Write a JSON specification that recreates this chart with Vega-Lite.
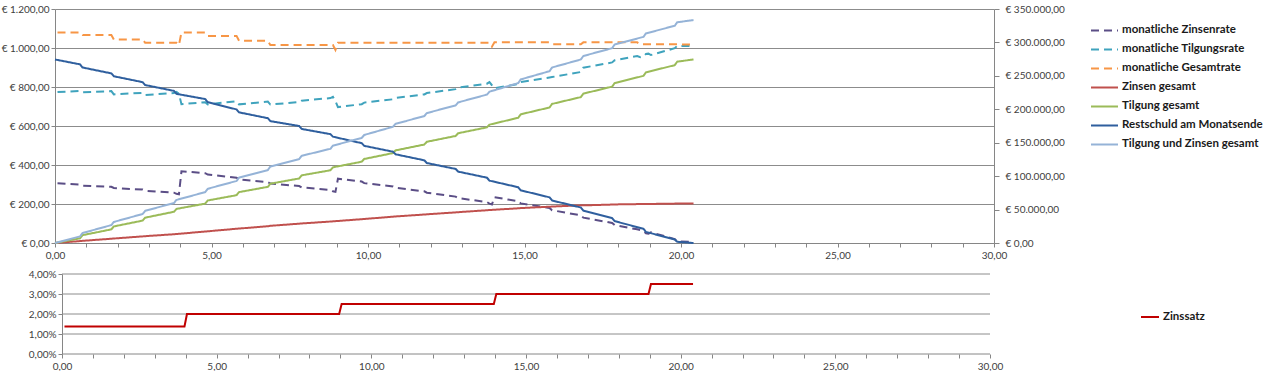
{
  "$schema": "https://vega.github.io/schema/vega-lite/v6.json",
  "background": "white",
  "padding": {"left": 0, "right": 0, "top": 4, "bottom": 0},
  "config": {
    "locale": {"number": {"decimal": ",", "thousands": ".", "grouping": [3], "currency": ["€ ", ""]}},
    "font": "Lato",
    "view": {"stroke": null},
    "axis": {"labelFont": "Lato", "labelFontSize": 10, "labelColor": "#404040", "domainColor": "#868686", "tickColor": "#868686", "gridColor": "#8c8c8c", "gridWidth": 1, "title": null, "labelOverlap": false, "labelFlush": false, "tickSize": 4},
    "legend": {"labelFont": "Lato", "labelFontSize": 11.5, "labelFontWeight": "bold", "labelColor": "#1a1a1a", "title": null}
  },
  "datasets": {
    "monthly": [
      {"x": 0.08, "monatliche Zinsenrate": 306, "monatliche Tilgungsrate": 774, "monatliche Gesamtrate": 1080},
      {"x": 0.8, "monatliche Zinsenrate": 300, "monatliche Tilgungsrate": 780, "monatliche Gesamtrate": 1080},
      {"x": 0.88, "monatliche Zinsenrate": 294, "monatliche Tilgungsrate": 773, "monatliche Gesamtrate": 1067},
      {"x": 1.8, "monatliche Zinsenrate": 288, "monatliche Tilgungsrate": 779, "monatliche Gesamtrate": 1067},
      {"x": 1.88, "monatliche Zinsenrate": 282, "monatliche Tilgungsrate": 762, "monatliche Gesamtrate": 1044},
      {"x": 2.8, "monatliche Zinsenrate": 274, "monatliche Tilgungsrate": 770, "monatliche Gesamtrate": 1044},
      {"x": 2.88, "monatliche Zinsenrate": 268, "monatliche Tilgungsrate": 759, "monatliche Gesamtrate": 1027},
      {"x": 3.8, "monatliche Zinsenrate": 258, "monatliche Tilgungsrate": 769, "monatliche Gesamtrate": 1027},
      {"x": 3.88, "monatliche Zinsenrate": 252, "monatliche Tilgungsrate": 775, "monatliche Gesamtrate": 1027},
      {"x": 3.96, "monatliche Zinsenrate": 250, "monatliche Tilgungsrate": 765, "monatliche Gesamtrate": 1015},
      {"x": 4.04, "monatliche Zinsenrate": 368, "monatliche Tilgungsrate": 712, "monatliche Gesamtrate": 1080},
      {"x": 4.8, "monatliche Zinsenrate": 358, "monatliche Tilgungsrate": 722, "monatliche Gesamtrate": 1080},
      {"x": 4.88, "monatliche Zinsenrate": 351, "monatliche Tilgungsrate": 711, "monatliche Gesamtrate": 1062},
      {"x": 5.8, "monatliche Zinsenrate": 335, "monatliche Tilgungsrate": 727, "monatliche Gesamtrate": 1062},
      {"x": 5.88, "monatliche Zinsenrate": 326, "monatliche Tilgungsrate": 711, "monatliche Gesamtrate": 1037},
      {"x": 6.8, "monatliche Zinsenrate": 312, "monatliche Tilgungsrate": 725, "monatliche Gesamtrate": 1037},
      {"x": 6.88, "monatliche Zinsenrate": 305, "monatliche Tilgungsrate": 710, "monatliche Gesamtrate": 1015},
      {"x": 7.8, "monatliche Zinsenrate": 292, "monatliche Tilgungsrate": 723, "monatliche Gesamtrate": 1015},
      {"x": 7.88, "monatliche Zinsenrate": 285, "monatliche Tilgungsrate": 730, "monatliche Gesamtrate": 1015},
      {"x": 8.8, "monatliche Zinsenrate": 272, "monatliche Tilgungsrate": 743, "monatliche Gesamtrate": 1015},
      {"x": 8.88, "monatliche Zinsenrate": 265, "monatliche Tilgungsrate": 750, "monatliche Gesamtrate": 1015},
      {"x": 8.96, "monatliche Zinsenrate": 262, "monatliche Tilgungsrate": 728, "monatliche Gesamtrate": 990},
      {"x": 9.04, "monatliche Zinsenrate": 330, "monatliche Tilgungsrate": 697, "monatliche Gesamtrate": 1027},
      {"x": 9.8, "monatliche Zinsenrate": 315, "monatliche Tilgungsrate": 712, "monatliche Gesamtrate": 1027},
      {"x": 9.88, "monatliche Zinsenrate": 307, "monatliche Tilgungsrate": 720, "monatliche Gesamtrate": 1027},
      {"x": 10.8, "monatliche Zinsenrate": 290, "monatliche Tilgungsrate": 737, "monatliche Gesamtrate": 1027},
      {"x": 10.88, "monatliche Zinsenrate": 283, "monatliche Tilgungsrate": 744, "monatliche Gesamtrate": 1027},
      {"x": 11.8, "monatliche Zinsenrate": 265, "monatliche Tilgungsrate": 762, "monatliche Gesamtrate": 1027},
      {"x": 11.88, "monatliche Zinsenrate": 258, "monatliche Tilgungsrate": 769, "monatliche Gesamtrate": 1027},
      {"x": 12.8, "monatliche Zinsenrate": 238, "monatliche Tilgungsrate": 789, "monatliche Gesamtrate": 1027},
      {"x": 12.88, "monatliche Zinsenrate": 230, "monatliche Tilgungsrate": 797, "monatliche Gesamtrate": 1027},
      {"x": 13.8, "monatliche Zinsenrate": 210, "monatliche Tilgungsrate": 817, "monatliche Gesamtrate": 1027},
      {"x": 13.88, "monatliche Zinsenrate": 202, "monatliche Tilgungsrate": 825, "monatliche Gesamtrate": 1027},
      {"x": 13.96, "monatliche Zinsenrate": 198, "monatliche Tilgungsrate": 809, "monatliche Gesamtrate": 1007},
      {"x": 14.04, "monatliche Zinsenrate": 235, "monatliche Tilgungsrate": 794, "monatliche Gesamtrate": 1029},
      {"x": 14.8, "monatliche Zinsenrate": 214, "monatliche Tilgungsrate": 815, "monatliche Gesamtrate": 1029},
      {"x": 14.88, "monatliche Zinsenrate": 203, "monatliche Tilgungsrate": 826, "monatliche Gesamtrate": 1029},
      {"x": 15.8, "monatliche Zinsenrate": 180, "monatliche Tilgungsrate": 849, "monatliche Gesamtrate": 1029},
      {"x": 15.88, "monatliche Zinsenrate": 168, "monatliche Tilgungsrate": 851, "monatliche Gesamtrate": 1019},
      {"x": 16.8, "monatliche Zinsenrate": 142, "monatliche Tilgungsrate": 877, "monatliche Gesamtrate": 1019},
      {"x": 16.88, "monatliche Zinsenrate": 130, "monatliche Tilgungsrate": 899, "monatliche Gesamtrate": 1029},
      {"x": 17.8, "monatliche Zinsenrate": 103, "monatliche Tilgungsrate": 926, "monatliche Gesamtrate": 1029},
      {"x": 17.88, "monatliche Zinsenrate": 92, "monatliche Tilgungsrate": 937, "monatliche Gesamtrate": 1029},
      {"x": 18.6, "monatliche Zinsenrate": 70, "monatliche Tilgungsrate": 959, "monatliche Gesamtrate": 1029},
      {"x": 18.7, "monatliche Zinsenrate": 66, "monatliche Tilgungsrate": 953, "monatliche Gesamtrate": 1019},
      {"x": 18.8, "monatliche Zinsenrate": 62, "monatliche Tilgungsrate": 957, "monatliche Gesamtrate": 1019},
      {"x": 18.88, "monatliche Zinsenrate": 50, "monatliche Tilgungsrate": 969, "monatliche Gesamtrate": 1019},
      {"x": 18.96, "monatliche Zinsenrate": 48, "monatliche Tilgungsrate": 971, "monatliche Gesamtrate": 1019},
      {"x": 19.04, "monatliche Zinsenrate": 55, "monatliche Tilgungsrate": 964, "monatliche Gesamtrate": 1019},
      {"x": 19.8, "monatliche Zinsenrate": 20, "monatliche Tilgungsrate": 999, "monatliche Gesamtrate": 1019},
      {"x": 19.88, "monatliche Zinsenrate": 8, "monatliche Tilgungsrate": 1011, "monatliche Gesamtrate": 1019},
      {"x": 20.4, "monatliche Zinsenrate": 5, "monatliche Tilgungsrate": 1010, "monatliche Gesamtrate": 1017}
    ],
    "cum": [
      {"x": 0, "Zinsen gesamt": 0, "Tilgung gesamt": 0, "Restschuld am Monatsende": 274500, "Tilgung und Zinsen gesamt": 0},
      {"x": 0.8, "Zinsen gesamt": 2900, "Tilgung gesamt": 7000, "Restschuld am Monatsende": 267200, "Tilgung und Zinsen gesamt": 9900},
      {"x": 0.88, "Zinsen gesamt": 3200, "Tilgung gesamt": 11700, "Restschuld am Monatsende": 262500, "Tilgung und Zinsen gesamt": 14900},
      {"x": 1.8, "Zinsen gesamt": 6400, "Tilgung gesamt": 20400, "Restschuld am Monatsende": 253700, "Tilgung und Zinsen gesamt": 26800},
      {"x": 1.88, "Zinsen gesamt": 6700, "Tilgung gesamt": 24800, "Restschuld am Monatsende": 249400, "Tilgung und Zinsen gesamt": 31500},
      {"x": 2.8, "Zinsen gesamt": 9900, "Tilgung gesamt": 33500, "Restschuld am Monatsende": 240600, "Tilgung und Zinsen gesamt": 43400},
      {"x": 2.88, "Zinsen gesamt": 10200, "Tilgung gesamt": 37900, "Restschuld am Monatsende": 236300, "Tilgung und Zinsen gesamt": 48100},
      {"x": 3.8, "Zinsen gesamt": 13100, "Tilgung gesamt": 46700, "Restschuld am Monatsende": 227500, "Tilgung und Zinsen gesamt": 59800},
      {"x": 3.88, "Zinsen gesamt": 13400, "Tilgung gesamt": 51000, "Restschuld am Monatsende": 223100, "Tilgung und Zinsen gesamt": 64400},
      {"x": 4.8, "Zinsen gesamt": 17200, "Tilgung gesamt": 58900, "Restschuld am Monatsende": 215300, "Tilgung und Zinsen gesamt": 76100},
      {"x": 4.88, "Zinsen gesamt": 17500, "Tilgung gesamt": 63600, "Restschuld am Monatsende": 210600, "Tilgung und Zinsen gesamt": 81100},
      {"x": 5.8, "Zinsen gesamt": 21300, "Tilgung gesamt": 71500, "Restschuld am Monatsende": 199800, "Tilgung und Zinsen gesamt": 92800},
      {"x": 5.88, "Zinsen gesamt": 21600, "Tilgung gesamt": 76100, "Restschuld am Monatsende": 195400, "Tilgung und Zinsen gesamt": 97700},
      {"x": 6.8, "Zinsen gesamt": 25100, "Tilgung gesamt": 84000, "Restschuld am Monatsende": 186700, "Tilgung und Zinsen gesamt": 109100},
      {"x": 6.88, "Zinsen gesamt": 25700, "Tilgung gesamt": 88700, "Restschuld am Monatsende": 182300, "Tilgung und Zinsen gesamt": 114400},
      {"x": 7.8, "Zinsen gesamt": 28900, "Tilgung gesamt": 96500, "Restschuld am Monatsende": 175000, "Tilgung und Zinsen gesamt": 125400},
      {"x": 7.88, "Zinsen gesamt": 29200, "Tilgung gesamt": 101200, "Restschuld am Monatsende": 170600, "Tilgung und Zinsen gesamt": 130400},
      {"x": 8.8, "Zinsen gesamt": 32100, "Tilgung gesamt": 108800, "Restschuld am Monatsende": 162800, "Tilgung und Zinsen gesamt": 140900},
      {"x": 8.88, "Zinsen gesamt": 32400, "Tilgung gesamt": 113200, "Restschuld am Monatsende": 159000, "Tilgung und Zinsen gesamt": 145600},
      {"x": 9.8, "Zinsen gesamt": 35600, "Tilgung gesamt": 121600, "Restschuld am Monatsende": 149300, "Tilgung und Zinsen gesamt": 157200},
      {"x": 9.88, "Zinsen gesamt": 35900, "Tilgung gesamt": 125700, "Restschuld am Monatsende": 145300, "Tilgung und Zinsen gesamt": 161600},
      {"x": 10.8, "Zinsen gesamt": 39400, "Tilgung gesamt": 134500, "Restschuld am Monatsende": 136500, "Tilgung und Zinsen gesamt": 173900},
      {"x": 10.88, "Zinsen gesamt": 39700, "Tilgung gesamt": 138500, "Restschuld am Monatsende": 132700, "Tilgung und Zinsen gesamt": 178200},
      {"x": 11.8, "Zinsen gesamt": 42600, "Tilgung gesamt": 147300, "Restschuld am Monatsende": 123700, "Tilgung und Zinsen gesamt": 189900},
      {"x": 11.88, "Zinsen gesamt": 42900, "Tilgung gesamt": 151400, "Restschuld am Monatsende": 119600, "Tilgung und Zinsen gesamt": 194300},
      {"x": 12.8, "Zinsen gesamt": 45800, "Tilgung gesamt": 160100, "Restschuld am Monatsende": 110800, "Tilgung und Zinsen gesamt": 205900},
      {"x": 12.88, "Zinsen gesamt": 46100, "Tilgung gesamt": 164200, "Restschuld am Monatsende": 106800, "Tilgung und Zinsen gesamt": 210300},
      {"x": 13.8, "Zinsen gesamt": 49000, "Tilgung gesamt": 173000, "Restschuld am Monatsende": 97700, "Tilgung und Zinsen gesamt": 222000},
      {"x": 13.88, "Zinsen gesamt": 49300, "Tilgung gesamt": 177000, "Restschuld am Monatsende": 93300, "Tilgung und Zinsen gesamt": 226300},
      {"x": 14.8, "Zinsen gesamt": 51900, "Tilgung gesamt": 187300, "Restschuld am Monatsende": 83400, "Tilgung und Zinsen gesamt": 239200},
      {"x": 14.88, "Zinsen gesamt": 52200, "Tilgung gesamt": 192500, "Restschuld am Monatsende": 78800, "Tilgung und Zinsen gesamt": 244700},
      {"x": 15.8, "Zinsen gesamt": 54300, "Tilgung gesamt": 202700, "Restschuld am Monatsende": 68300, "Tilgung und Zinsen gesamt": 257000},
      {"x": 15.88, "Zinsen gesamt": 54500, "Tilgung gesamt": 208000, "Restschuld am Monatsende": 63600, "Tilgung und Zinsen gesamt": 262500},
      {"x": 16.8, "Zinsen gesamt": 56300, "Tilgung gesamt": 218200, "Restschuld am Monatsende": 53100, "Tilgung und Zinsen gesamt": 274500},
      {"x": 16.88, "Zinsen gesamt": 56300, "Tilgung gesamt": 223400, "Restschuld am Monatsende": 48400, "Tilgung und Zinsen gesamt": 279700},
      {"x": 17.8, "Zinsen gesamt": 57500, "Tilgung gesamt": 233900, "Restschuld am Monatsende": 37300, "Tilgung und Zinsen gesamt": 291400},
      {"x": 17.88, "Zinsen gesamt": 57700, "Tilgung gesamt": 239200, "Restschuld am Monatsende": 32700, "Tilgung und Zinsen gesamt": 296900},
      {"x": 18.8, "Zinsen gesamt": 58300, "Tilgung gesamt": 250000, "Restschuld am Monatsende": 21300, "Tilgung und Zinsen gesamt": 308300},
      {"x": 18.88, "Zinsen gesamt": 58300, "Tilgung gesamt": 255200, "Restschuld am Monatsende": 16600, "Tilgung und Zinsen gesamt": 313500},
      {"x": 19.8, "Zinsen gesamt": 58900, "Tilgung gesamt": 266000, "Restschuld am Monatsende": 5300, "Tilgung und Zinsen gesamt": 324900},
      {"x": 19.88, "Zinsen gesamt": 58900, "Tilgung gesamt": 271300, "Restschuld am Monatsende": 1800, "Tilgung und Zinsen gesamt": 330200},
      {"x": 20.4, "Zinsen gesamt": 58900, "Tilgung gesamt": 274500, "Restschuld am Monatsende": 0, "Tilgung und Zinsen gesamt": 333400}
    ],
    "rate": [
      {"x": 0.08, "r": 0.0138},
      {"x": 3.96, "r": 0.0138},
      {"x": 4.04, "r": 0.02},
      {"x": 8.96, "r": 0.02},
      {"x": 9.04, "r": 0.025},
      {"x": 13.96, "r": 0.025},
      {"x": 14.04, "r": 0.03},
      {"x": 18.96, "r": 0.03},
      {"x": 19.04, "r": 0.035},
      {"x": 20.4, "r": 0.035}
    ],
    "rategrid": [{"g": 0.01}, {"g": 0.02}, {"g": 0.03}, {"g": 0.04}],
    "ratebase": [{"g": 0}]
  },
  "columns": 1,
  "spacing": 9,
  "resolve": {"scale": {"color": "independent", "strokeDash": "independent"}, "legend": {"color": "independent", "strokeDash": "independent"}},
  "concat": [
    {
      "width": 939,
      "height": 234,
      "resolve": {"scale": {"y": "independent"}},
      "layer": [
        {
          "data": {"name": "monthly"},
          "transform": [{"fold": ["monatliche Zinsenrate", "monatliche Tilgungsrate", "monatliche Gesamtrate"], "as": ["s", "v"]}],
          "mark": {"type": "line", "strokeWidth": 2},
          "encoding": {
            "x": {"field": "x", "type": "quantitative", "scale": {"domain": [0, 30], "nice": false},
              "axis": {"values": [0,1,2,3,4,5,6,7,8,9,10,11,12,13,14,15,16,17,18,19,20,21,22,23,24,25,26,27,28,29,30], "format": ",.2f", "labelExpr": "datum.value % 5 === 0 ? datum.label : ''", "grid": false, "tickSize": 4, "labelPadding": 3, "labelOverlap": false}},
            "y": {"field": "v", "type": "quantitative", "scale": {"domain": [0, 1200], "nice": false},
              "axis": {"values": [0, 200, 400, 600, 800, 1000, 1200], "format": "$,.2f", "grid": true, "tickSize": 4, "labelPadding": 2, "labelOverlap": false, "minExtent": 55, "maxExtent": 55}},
            "color": {"field": "s", "type": "nominal",
              "scale": {"domain": ["monatliche Zinsenrate", "monatliche Tilgungsrate", "monatliche Gesamtrate", "Zinsen gesamt", "Tilgung gesamt", "Restschuld am Monatsende", "Tilgung und Zinsen gesamt"],
                "range": ["#5b4e86", "#3fa3bd", "#f79646", "#c0504d", "#9bbb59", "#2f5f9e", "#95b3d7"]},
              "legend": {"orient": "none", "legendX": 1035, "legendY": 12, "symbolType": "stroke", "symbolSize": 729, "symbolStrokeWidth": 2, "labelOffset": 3, "rowPadding": 0, "clipHeight": 18.8, "title": null}},
            "strokeDash": {"field": "s", "type": "nominal",
              "scale": {"domain": ["monatliche Zinsenrate", "monatliche Tilgungsrate", "monatliche Gesamtrate", "Zinsen gesamt", "Tilgung gesamt", "Restschuld am Monatsende", "Tilgung und Zinsen gesamt"],
                "range": [[8, 5], [8, 5], [8, 5], [1, 0], [1, 0], [1, 0], [1, 0]]},
              "legend": {"orient": "none", "legendX": 1035, "legendY": 12, "symbolType": "stroke", "symbolSize": 729, "symbolStrokeWidth": 2, "labelOffset": 3, "rowPadding": 0, "clipHeight": 18.8, "title": null}}
          }
        },
        {
          "data": {"name": "cum"},
          "transform": [{"fold": ["Zinsen gesamt", "Tilgung gesamt", "Restschuld am Monatsende", "Tilgung und Zinsen gesamt"], "as": ["s", "v"]}],
          "mark": {"type": "line", "strokeWidth": 2},
          "encoding": {
            "x": {"field": "x", "type": "quantitative",
              "axis": {"values": [0,1,2,3,4,5,6,7,8,9,10,11,12,13,14,15,16,17,18,19,20,21,22,23,24,25,26,27,28,29,30], "format": ",.2f", "labelExpr": "datum.value % 5 === 0 ? datum.label : ''", "grid": false, "tickSize": 4, "labelPadding": 3, "labelOverlap": false}},
            "y": {"field": "v", "type": "quantitative", "scale": {"domain": [0, 350000], "nice": false},
              "axis": {"orient": "right", "values": [0, 50000, 100000, 150000, 200000, 250000, 300000, 350000], "format": "$,.2f", "grid": false, "tickSize": 5, "labelPadding": 6, "labelOverlap": false}},
            "color": {"field": "s", "type": "nominal"},
            "strokeDash": {"field": "s", "type": "nominal"}
          }
        }
      ]
    },
    {
      "width": 935,
      "height": 80,
      "layer": [
        {
          "data": {"name": "rategrid"},
          "mark": {"type": "rule", "color": "#8c8c8c", "strokeWidth": 1},
          "encoding": {
            "y": {"field": "g", "type": "quantitative", "scale": {"domain": [0, 0.04], "nice": false},
              "axis": {"values": [0, 0.01, 0.02, 0.03, 0.04], "format": ".2%", "grid": false, "offset": -7, "tickSize": 4, "labelPadding": 2, "labelOverlap": false, "minExtent": 55, "maxExtent": 55}},
            "x": {"datum": 0, "type": "quantitative", "scale": {"domain": [-0.226, 30], "nice": false, "zero": false},
              "axis": {"values": [0,1,2,3,4,5,6,7,8,9,10,11,12,13,14,15,16,17,18,19,20,21,22,23,24,25,26,27,28,29,30], "format": ",.2f", "labelExpr": "datum.value % 5 === 0 ? datum.label : ''", "grid": false, "domain": false, "tickSize": 4, "labelPadding": 3, "labelOverlap": false}},
            "x2": {"datum": 30}
          }
        },
        {
          "data": {"name": "ratebase"},
          "mark": {"type": "rule", "color": "#868686", "strokeWidth": 1},
          "encoding": {
            "y": {"field": "g", "type": "quantitative",
              "axis": {"values": [0, 0.01, 0.02, 0.03, 0.04], "format": ".2%", "grid": false, "offset": -7, "tickSize": 4, "labelPadding": 2, "labelOverlap": false, "minExtent": 55, "maxExtent": 55}},
            "x": {"datum": 0, "type": "quantitative",
              "axis": {"values": [0,1,2,3,4,5,6,7,8,9,10,11,12,13,14,15,16,17,18,19,20,21,22,23,24,25,26,27,28,29,30], "format": ",.2f", "labelExpr": "datum.value % 5 === 0 ? datum.label : ''", "grid": false, "domain": false, "tickSize": 4, "labelPadding": 3, "labelOverlap": false}},
            "x2": {"datum": 30}
          }
        },
        {
          "data": {"name": "rate"},
          "mark": {"type": "line", "strokeWidth": 2},
          "encoding": {
            "x": {"field": "x", "type": "quantitative",
              "axis": {"values": [0,1,2,3,4,5,6,7,8,9,10,11,12,13,14,15,16,17,18,19,20,21,22,23,24,25,26,27,28,29,30], "format": ",.2f", "labelExpr": "datum.value % 5 === 0 ? datum.label : ''", "grid": false, "domain": false, "tickSize": 4, "labelPadding": 3, "labelOverlap": false}},
            "y": {"field": "r", "type": "quantitative",
              "axis": {"values": [0, 0.01, 0.02, 0.03, 0.04], "format": ".2%", "grid": false, "offset": -7, "tickSize": 4, "labelPadding": 2, "labelOverlap": false, "minExtent": 55, "maxExtent": 55}},
            "color": {"datum": "Zinssatz", "type": "nominal", "scale": {"range": ["#c00000"]},
              "legend": {"orient": "none", "legendX": 1085, "legendY": 33, "symbolType": "stroke", "symbolSize": 324, "symbolStrokeWidth": 2, "labelOffset": 3, "title": null}}
          }
        }
      ]
    }
  ]
}
